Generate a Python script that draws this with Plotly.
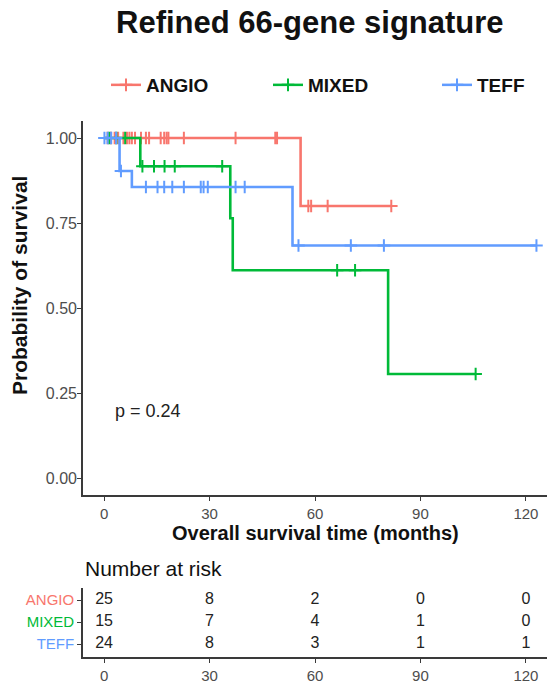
import plotly.graph_objects as go

# ---------------- data ----------------
groups = ["ANGIO", "MIXED", "TEFF"]
colors = ["#F8766D", "#00BA38", "#619CFF"]

# Kaplan-Meier step curves (time in months, survival probability)
angio_t = [0, 55.9, 81.7]
angio_s = [1.0, 0.80, 0.80]
angio_cens = [1.0, 2.0, 3.0, 4.0, 5.5, 6.5, 7.2, 7.9, 8.8, 10.5, 11.9, 12.8, 16.1,
              17.1, 17.8, 18.3, 22.7, 37.4, 48.7, 49.2, 58.1, 58.9, 63.6, 81.7]

mixed_t = [0, 10.3, 35.9, 36.6, 80.8, 105.7]
mixed_s = [1.0, 0.917, 0.764, 0.611, 0.306, 0.306]
mixed_cens = [1.5, 3.5, 6.0, 10.9, 14.2, 17.2, 20.1, 33.6, 66.3, 71.4, 105.7]

teff_t = [0, 4.4, 7.9, 53.6, 123.0]
teff_s = [1.0, 0.903, 0.856, 0.684, 0.684]
teff_cens = [0.1, 1.0, 2.0, 3.4, 4.8, 11.9, 15.2, 17.1, 19.4, 22.7, 27.5, 28.3,
             29.5, 37.4, 40.0, 55.3, 70.2, 79.6, 123.0]

risk_times = [0, 30, 60, 90, 120]
angio_risk = [25, 8, 2, 0, 0]
mixed_risk = [15, 7, 4, 1, 0]
teff_risk = [24, 8, 3, 1, 1]

x_ticks = [0, 30, 60, 90, 120]
y_ticks = [0, 0.25, 0.5, 0.75, 1.0]
y_ticklabels = ["0.00", "0.25", "0.50", "0.75", "1.00"]

title_text = "Refined 66-gene signature"
x_title = "Overall survival time (months)"
y_title = "Probability of survival"
p_text = "p = 0.24"
risk_title = "Number at risk"

# ---------------- figure ----------------
W, H = 547, 685
FONT = "Liberation Sans, Arial, sans-serif"
AXC = "#3a3a3a"
TICKC = "#4D4D4D"


def px(x):
    return x / W


def py(y):
    return 1 - y / H


def surv_at(t, times, surv):
    idx = 0
    for i, tt in enumerate(times):
        if tt <= t:
            idx = i
    return surv[idx]


curves = [(angio_t, angio_s, angio_cens), (mixed_t, mixed_s, mixed_cens), (teff_t, teff_s, teff_cens)]
risks = [angio_risk, mixed_risk, teff_risk]
legend_widths = [117, 124, 60]

fig = go.Figure()

for g, c, (t, s, cens), lw in zip(groups, colors, curves, legend_widths):
    fig.add_trace(go.Scatter(
        x=t, y=s, mode="lines", line=dict(color=c, width=2.6, shape="hv"),
        name=g, legendgroup=g, showlegend=False, xaxis="x", yaxis="y",
        hoverinfo="skip"))
    fig.add_trace(go.Scatter(
        x=cens, y=[surv_at(v, t, s) for v in cens], mode="markers",
        marker=dict(symbol="cross-thin", size=9, color=c, line=dict(width=2, color=c)),
        name=g, legendgroup=g, showlegend=False, xaxis="x", yaxis="y"))
    # legend entry
    fig.add_trace(go.Scatter(
        x=[None], y=[None], mode="lines+markers",
        line=dict(color=c, width=2.5),
        marker=dict(symbol="cross-thin", size=9, color=c, line=dict(width=2, color=c)),
        name=g, legendgroup=g, showlegend=True, legendwidth=lw, xaxis="x", yaxis="y"))

row_y = [3, 2, 1]
for g, r, yy in zip(groups, risks, row_y):
    fig.add_trace(go.Scatter(
        x=risk_times, y=[yy] * len(risk_times), mode="text",
        text=[str(v) for v in r], textposition="middle center",
        textfont=dict(family=FONT, size=16, color="#222222"),
        showlegend=False, xaxis="x2", yaxis="y2", hoverinfo="skip"))

axis_common = dict(showline=True, linecolor=AXC, linewidth=1.6, ticks="outside",
                   ticklen=4, tickwidth=1.3, tickcolor=AXC, showgrid=False,
                   zeroline=False, automargin=False,
                   tickfont=dict(family=FONT, size=15, color=TICKC))

fig.update_layout(
    width=W, height=H, margin=dict(l=0, r=0, t=0, b=0),
    paper_bgcolor="white", plot_bgcolor="white",
    font=dict(family=FONT),
    xaxis=dict(domain=[px(83), 1], range=[-6, 126], tickvals=x_ticks, anchor="y", **axis_common),
    yaxis=dict(domain=[py(495), py(121)], range=[-0.05, 1.05], tickvals=y_ticks,
               ticktext=y_ticklabels, anchor="x", ticklabelstandoff=-3, **axis_common),
    xaxis2=dict(domain=[px(83), 1], range=[-6, 126], tickvals=x_ticks, anchor="y2", **axis_common),
    yaxis2=dict(domain=[py(657), py(588)], range=[0.42, 3.55], tickvals=row_y,
                ticktext=[f"<span style='color:{c}'>{g}</span>" for g, c in zip(groups, colors)],
                anchor="x2", **axis_common),
    legend=dict(orientation="h", x=px(106), xanchor="left", y=py(85), yanchor="middle",
                font=dict(family=FONT, size=19, color="#111111", weight="bold"),
                bgcolor="rgba(0,0,0,0)"),
    showlegend=True,
)
fig.update_yaxes(tickfont=dict(size=16), selector=dict(anchor="x"))

fig.add_annotation(text=f"<b>{title_text}</b>", x=px(310), y=py(22), xref="paper", yref="paper",
                   showarrow=False, xanchor="center", yanchor="middle",
                   font=dict(family=FONT, size=31, color="#111111"))
fig.add_annotation(text=f"<b>{x_title}</b>", x=px(315), y=py(533), xref="paper", yref="paper",
                   showarrow=False, xanchor="center", yanchor="middle",
                   font=dict(family=FONT, size=20, color="#111111"))
fig.add_annotation(text=f"<b>{y_title}</b>", x=px(19), y=py(286), xref="paper", yref="paper",
                   showarrow=False, xanchor="center", yanchor="middle", textangle=-90,
                   font=dict(family=FONT, size=21, color="#111111"))
fig.add_annotation(text=p_text, x=2.5, y=0.196, xref="x", yref="y",
                   showarrow=False, xanchor="left", yanchor="middle",
                   font=dict(family=FONT, size=18, color="#222222"))
fig.add_annotation(text=risk_title, x=px(83), y=py(568), xref="paper", yref="paper",
                   showarrow=False, xanchor="left", yanchor="middle",
                   font=dict(family=FONT, size=21, color="#111111"))

fig.write_html("out.html", config={"displayModeBar": False},
               post_script="document.body.style.margin='0';document.body.style.overflow='hidden';")
